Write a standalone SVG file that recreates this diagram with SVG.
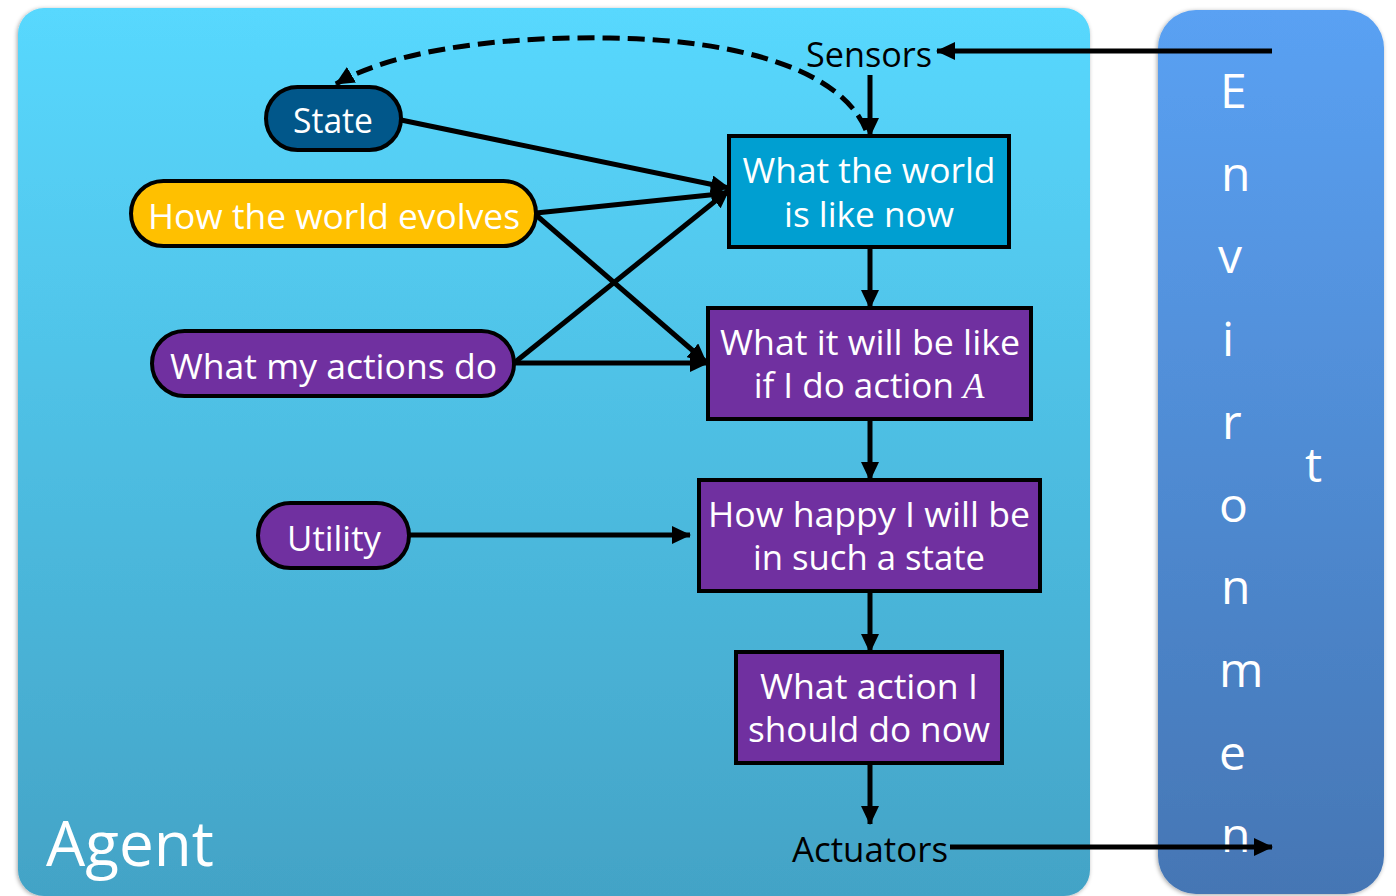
<svg xmlns="http://www.w3.org/2000/svg" width="1396" height="896" viewBox="0 0 1396 896">
  <defs>
    <linearGradient id="gAgent" x1="0" y1="0" x2="0" y2="1">
      <stop offset="0" stop-color="#58d8fe"/>
      <stop offset="1" stop-color="#43a3c6"/>
    </linearGradient>
    <linearGradient id="gEnv" x1="0" y1="0" x2="0" y2="1">
      <stop offset="0" stop-color="#5aa1f3"/>
      <stop offset="1" stop-color="#4576b4"/>
    </linearGradient>
    <filter id="shadow" x="-5%" y="-5%" width="110%" height="110%">
      <feDropShadow dx="-1" dy="1" stdDeviation="2" flood-color="#000" flood-opacity="0.35"/>
    </filter>
    <marker id="arrow" markerUnits="userSpaceOnUse" markerWidth="19" markerHeight="18" refX="18" refY="9" orient="auto">
      <path d="M0,0 L19,9 L0,18 z" fill="#000"/>
    </marker>
  </defs>
  <style>
    .lbl { font-family: "Open Sans", "Noto Sans", "DejaVu Sans", sans-serif; font-size: 35px; fill: #fff; text-anchor: middle; }
    .blk { font-family: "Open Sans", "Noto Sans", "DejaVu Sans", sans-serif; font-size: 35px; fill: #000; text-anchor: middle; }
    .env { font-family: "Open Sans", "Noto Sans", "DejaVu Sans", sans-serif; font-size: 48px; fill: #fff; }
    .box { stroke: #000; stroke-width: 4; }
    .edge { stroke: #000; stroke-width: 5; fill: none; marker-end: url(#arrow); }
    .dash { stroke: #000; stroke-width: 5; fill: none; stroke-dasharray: 17 8; marker-end: url(#arrow); }
  </style>

  <g id="agent">
    <rect x="18" y="8" width="1072" height="888" rx="26" fill="url(#gAgent)" filter="url(#shadow)"/>
    <text x="46" y="866" class="env" style="font-size:62px" textLength="168" lengthAdjust="spacingAndGlyphs">Agent</text>
  </g>

  <g id="environment">
    <rect x="1158" y="10" width="226" height="884" rx="38" fill="url(#gEnv)" filter="url(#shadow)"/>
    <text class="env" x="1220" y="108">E</text>
    <text class="env" x="1221" y="191">n</text>
    <text class="env" x="1218" y="273">v</text>
    <text class="env" x="1222" y="356">i</text>
    <text class="env" x="1222" y="439">r</text>
    <text class="env" x="1219" y="522">o</text>
    <text class="env" x="1221" y="604">n</text>
    <text class="env" x="1219" y="687">m</text>
    <text class="env" x="1219" y="770">e</text>
    <text class="env" x="1221" y="852">n</text>
    <text class="env" x="1305" y="482">t</text>
  </g>

  <g id="sensors">
    <text class="blk" x="869" y="67" textLength="126" lengthAdjust="spacingAndGlyphs">Sensors</text>
  </g>
  <g id="actuators">
    <text class="blk" x="870" y="862" textLength="156" lengthAdjust="spacingAndGlyphs">Actuators</text>
  </g>

  <g id="state">
    <rect class="box" x="266" y="87" width="135" height="63" rx="31.5" fill="#01578a"/>
    <text class="lbl" x="333" y="133" textLength="80" lengthAdjust="spacingAndGlyphs">State</text>
  </g>
  <g id="evolves">
    <rect class="box" x="131" y="181" width="405" height="65" rx="32.5" fill="#ffc000"/>
    <text class="lbl" x="334" y="229" textLength="372" lengthAdjust="spacingAndGlyphs">How the world evolves</text>
  </g>
  <g id="actions">
    <rect class="box" x="152" y="331" width="362" height="65" rx="32.5" fill="#7030a0"/>
    <text class="lbl" x="333.5" y="379" textLength="327" lengthAdjust="spacingAndGlyphs">What my actions do</text>
  </g>
  <g id="utility">
    <rect class="box" x="258" y="503" width="151" height="65" rx="32.5" fill="#7030a0"/>
    <text class="lbl" x="334" y="551" textLength="94" lengthAdjust="spacingAndGlyphs">Utility</text>
  </g>

  <g id="world-now">
    <rect class="box" x="729" y="136" width="280" height="111" fill="#009fd1"/>
    <text class="lbl" x="869" y="183" textLength="253" lengthAdjust="spacingAndGlyphs">What the world</text>
    <text class="lbl" x="869" y="227" textLength="170" lengthAdjust="spacingAndGlyphs">is like now</text>
  </g>
  <g id="will-be">
    <rect class="box" x="708" y="308" width="323" height="111" fill="#7030a0"/>
    <text class="lbl" x="870" y="355" textLength="300" lengthAdjust="spacingAndGlyphs">What it will be like</text>
    <text class="lbl" x="869" y="398"><tspan>if I do action </tspan><tspan font-family="'Liberation Serif', 'DejaVu Serif', serif" font-style="italic">A</tspan></text>
  </g>
  <g id="happy">
    <rect class="box" x="699" y="480" width="341" height="111" fill="#7030a0"/>
    <text class="lbl" x="869" y="527" textLength="322" lengthAdjust="spacingAndGlyphs">How happy I will be</text>
    <text class="lbl" x="869" y="570" textLength="232" lengthAdjust="spacingAndGlyphs">in such a state</text>
  </g>
  <g id="what-action">
    <rect class="box" x="736" y="652" width="266" height="111" fill="#7030a0"/>
    <text class="lbl" x="869" y="699" textLength="218" lengthAdjust="spacingAndGlyphs">What action I</text>
    <text class="lbl" x="869" y="742" textLength="242" lengthAdjust="spacingAndGlyphs">should do now</text>
  </g>

  <g id="connectors">
    <line class="edge" x1="1272" y1="51" x2="937" y2="51"/>
    <line class="edge" x1="870" y1="75" x2="870" y2="136"/>
    <path class="dash" d="M866,130 C842,72 745,40 610,38 C480,36 385,55 336,84"/>
    <line class="edge" x1="401" y1="120" x2="729" y2="188"/>
    <line class="edge" x1="536" y1="213" x2="729" y2="193"/>
    <line class="edge" x1="536" y1="215" x2="706" y2="362"/>
    <line class="edge" x1="514" y1="363" x2="729" y2="190"/>
    <line class="edge" x1="514" y1="363" x2="708" y2="363"/>
    <line class="edge" x1="409" y1="535" x2="690" y2="535"/>
    <line class="edge" x1="870" y1="247" x2="870" y2="308"/>
    <line class="edge" x1="870" y1="419" x2="870" y2="480"/>
    <line class="edge" x1="870" y1="591" x2="870" y2="652"/>
    <line class="edge" x1="870" y1="763" x2="870" y2="824"/>
    <line class="edge" x1="950" y1="847" x2="1272" y2="847"/>
  </g>
</svg>
